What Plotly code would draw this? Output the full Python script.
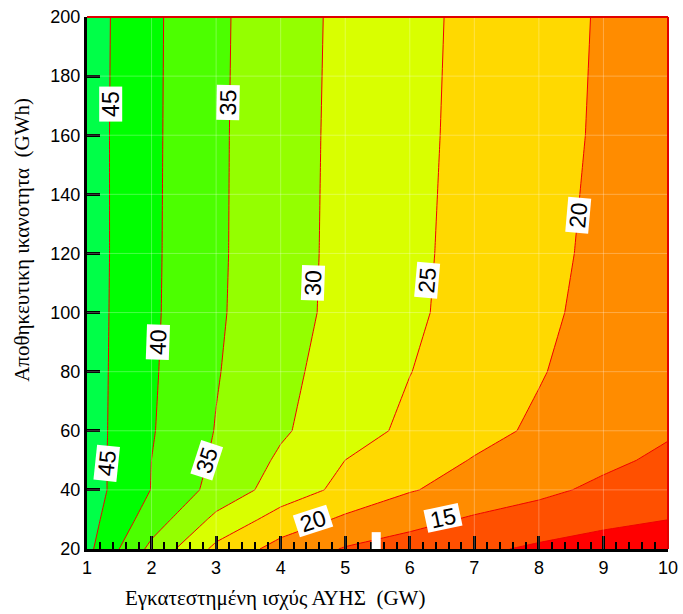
import plotly.graph_objects as go

# ---- data ----
power_gw = [1, 2, 3, 4, 5, 6, 7, 8, 9, 10]
storage_gwh = [20, 30, 40, 50, 60, 80, 100, 120, 160, 200]
z_rows = [
    [46.30, 33.67, 23.82, 18.20, 14.64, 12.82, 11.00, 9.18, 7.36, 5.55],     # 20
    [46.90, 37.63, 28.79, 22.96, 19.17, 16.56, 14.41, 12.94, 11.47, 10.05],  # 30
    [47.31, 39.87, 33.33, 27.78, 23.67, 20.33, 18.14, 16.07, 14.01, 11.94],  # 40
    [47.25, 39.98, 34.23, 29.24, 24.98, 22.30, 19.72, 17.84, 15.96, 14.08],  # 50
    [47.19, 40.34, 34.79, 30.63, 27.07, 24.00, 21.50, 19.23, 17.31, 15.50],  # 60
    [47.17, 40.59, 35.31, 31.21, 27.98, 25.09, 22.69, 20.31, 17.93, 15.90],  # 80
    [47.18, 40.77, 35.64, 31.82, 28.60, 25.79, 23.30, 20.94, 18.59, 16.23],  # 100
    [47.24, 40.83, 35.74, 31.92, 28.70, 25.94, 23.51, 21.24, 18.98, 16.72],  # 120
    [47.20, 40.89, 35.78, 31.98, 28.80, 26.12, 23.74, 21.57, 19.39, 17.22],  # 160
    [47.30, 40.95, 35.87, 32.09, 28.92, 26.27, 23.88, 21.72, 19.57, 17.40],  # 200
]
contour_start, contour_end, contour_step = 10, 45, 5
band_colors = ["#FF0000", "#FF5000", "#FF8C00", "#FFD900", "#D9FF00",
               "#94FF00", "#4CFF00", "#00FF00", "#00FF48"]
x_ticks = [1, 2, 3, 4, 5, 6, 7, 8, 9, 10]
y_ticks = [20, 40, 60, 80, 100, 120, 140, 160, 180, 200]

# contour label texts and where they sit (layout only)
label_texts = ["45", "35", "40", "45", "35", "30", "25", "20", "20", "15"]
label_layout = [  # (x, y, angle)
    (1.37, 170.5, -90), (3.18, 171, -89), (2.10, 90, -88), (1.31, 49, -84),
    (2.86, 50, -72), (4.50, 110, -88), (6.27, 111, -85), (8.61, 133, -85),
    (4.50, 29.5, -18), (6.51, 30.5, -12),
]

n = len(band_colors)
colorscale = [[i / (n - 1), c] for i, c in enumerate(band_colors)]

fig = go.Figure()
fig.add_trace(go.Contour(
    x=power_gw, y=storage_gwh, z=z_rows,
    contours=dict(start=contour_start, end=contour_end, size=contour_step,
                  coloring="fill", showlabels=False),
    colorscale=colorscale, showscale=False,
    line=dict(color="#F00000", width=1, smoothing=0),
    hoverinfo="skip",
))

shapes = []
# faint grid over fill
for xv in x_ticks[1:-1]:
    shapes.append(dict(type="line", xref="x", yref="paper", x0=xv, x1=xv, y0=0, y1=1,
                       line=dict(color="rgba(255,255,255,0.28)", width=1), layer="above"))
for yv in y_ticks[1:-1]:
    shapes.append(dict(type="line", xref="paper", yref="y", x0=0, x1=1, y0=yv, y1=yv,
                       line=dict(color="rgba(255,255,255,0.28)", width=1), layer="above"))
# red frame top and right
shapes.append(dict(type="line", xref="paper", yref="paper", x0=0, x1=1, y0=1, y1=1,
                   line=dict(color="#E00000", width=2), layer="above"))
shapes.append(dict(type="line", xref="paper", yref="paper", x0=1, x1=1, y0=0, y1=1,
                   line=dict(color="#E00000", width=2), layer="above"))
# small white box near bottom axis (as in the reference)
shapes.append(dict(type="rect", xref="x", yref="y", x0=5.41, x1=5.55, y0=20, y1=25.7,
                   fillcolor="white", line=dict(width=0), layer="above"))

annotations = []
for t, (lx, ly, ang) in zip(label_texts, label_layout):
    annotations.append(dict(x=lx, y=ly, xref="x", yref="y", text=t, showarrow=False,
                            textangle=ang, bgcolor="white", borderpad=0,
                            width=34, height=22, align="center", valign="middle",
                            font=dict(family="Liberation Sans, Arial", size=23, color="black")))
annotations.append(dict(x=0.324, y=-0.092, xref="paper", yref="paper",
                        text="Εγκατεστημένη ισχύς ΑΥΗΣ  (GW)", showarrow=False,
                        xanchor="center", yanchor="middle",
                        font=dict(family="Liberation Serif, Times New Roman", size=21, color="black")))
annotations.append(dict(x=-0.112, y=0.581, xref="paper", yref="paper",
                        text="Αποθηκευτικη ικανοτητα  (GWh)", showarrow=False, textangle=-90,
                        xanchor="center", yanchor="middle",
                        font=dict(family="Liberation Serif, Times New Roman", size=21, color="black")))

fig.update_layout(
    width=683, height=614,
    margin=dict(l=87, r=15, t=17, b=65, autoexpand=False),
    paper_bgcolor="white", plot_bgcolor="white",
    showlegend=False,
    shapes=shapes, annotations=annotations,
    xaxis=dict(range=[1, 10], tickvals=x_ticks, ticks="inside", ticklen=13, tickwidth=2.5,
               tickcolor="black", showline=True, linewidth=3, linecolor="black",
               showgrid=False, zeroline=False, layer="above traces", automargin=False,
               ticklabeloverflow="allow",
               tickfont=dict(family="Liberation Sans, Arial", size=18, color="black"),
               minor=dict(dtick=0.2, ticks="inside", ticklen=7, tickwidth=1.5, tickcolor="black",
                          showgrid=False)),
    yaxis=dict(range=[20, 200], tickvals=y_ticks, ticks="inside", ticklen=13, tickwidth=3,
               tickcolor="black", showline=True, linewidth=3, linecolor="black",
               showgrid=False, zeroline=False, layer="above traces", automargin=False,
               ticklabeloverflow="allow",
               tickfont=dict(family="Liberation Sans, Arial", size=18, color="black")),
)

fig.write_html(
    "out.html",
    config={"displayModeBar": False},
    post_script="document.documentElement.style.overflow='hidden';"
                "document.body.style.margin='0';document.body.style.overflow='hidden';",
)
